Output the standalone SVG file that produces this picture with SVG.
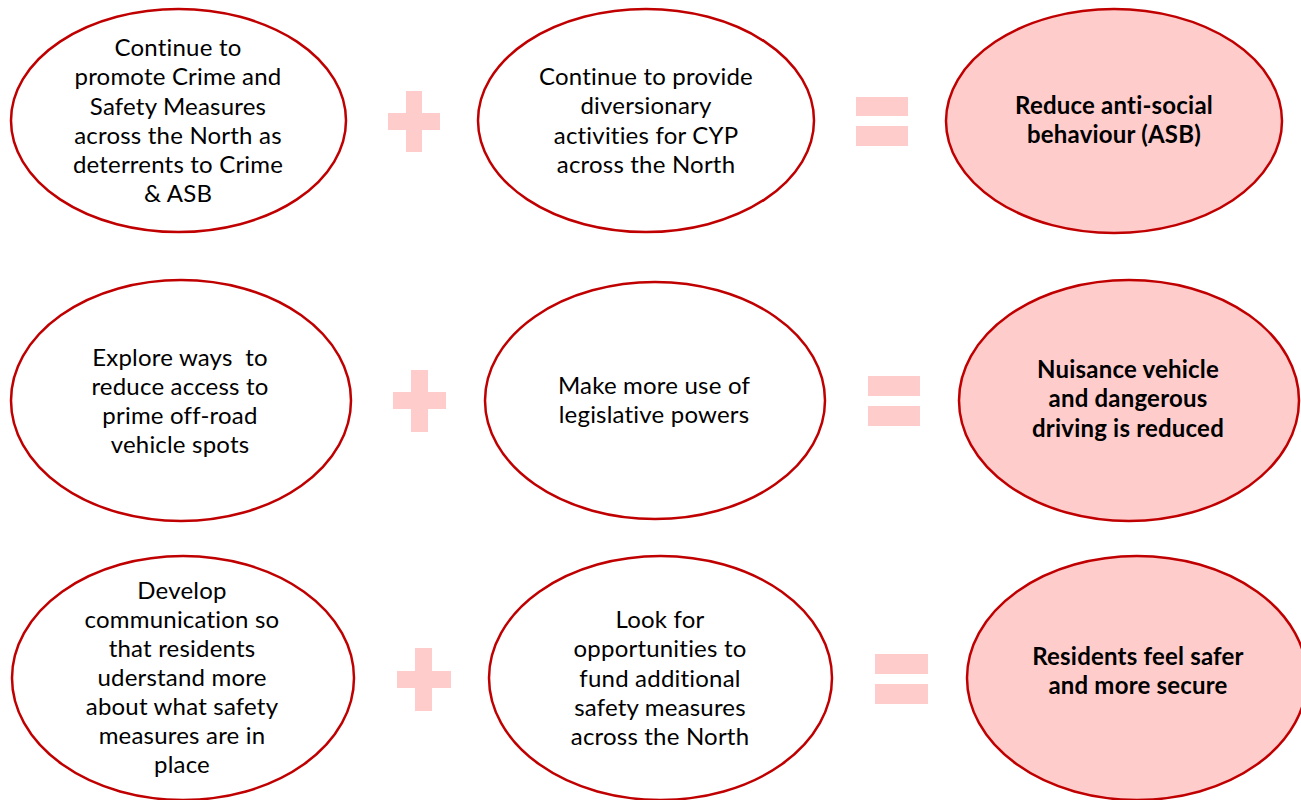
<svg xmlns="http://www.w3.org/2000/svg" width="1301" height="800" viewBox="0 0 1301 800">
<style>
.bg{fill:#ffffff}
.act{fill:#ffffff;stroke:#C00000;stroke-width:2.5}
.res{fill:#FFCCCC;stroke:#C00000;stroke-width:2.5}
.op{fill:#FFCCCC}
text{font-family:Lato,"Open Sans","Liberation Sans",sans-serif;font-size:24px;letter-spacing:0.2px;fill:#000000;text-anchor:middle}
.b{font-weight:bold}
</style>
<rect class="bg" x="0" y="0" width="1301" height="800"/>
<g id="connectors">
<g id="plus1" class="op"><rect x="406" y="91" width="16" height="61"/><rect x="388" y="113" width="52" height="17"/></g>
<g id="equals1" class="op"><rect x="856" y="97" width="52" height="19"/><rect x="856" y="126" width="52" height="20"/></g>
<g id="plus2" class="op"><rect x="411" y="370" width="17" height="62"/><rect x="393" y="392" width="53" height="17"/></g>
<g id="equals2" class="op"><rect x="868" y="376" width="52" height="20"/><rect x="868" y="406" width="52" height="20"/></g>
<g id="plus3" class="op"><rect x="415" y="648" width="17" height="63"/><rect x="397" y="671" width="54" height="17"/></g>
<g id="equals3" class="op"><rect x="875" y="654" width="53" height="20"/><rect x="875" y="684" width="53" height="20"/></g>
</g>
<g id="n1">
<ellipse class="act" cx="178.5" cy="120.5" rx="167.5" ry="111.5"/>
<text x="178" y="56">Continue to</text>
<text x="178" y="85.3">promote Crime and</text>
<text x="178" y="114.5">Safety Measures</text>
<text x="178" y="143.8">across the North as</text>
<text x="178" y="173">deterrents to Crime</text>
<text x="178" y="202.3">&amp; ASB</text>
</g>
<g id="n2">
<ellipse class="act" cx="646" cy="120.5" rx="168" ry="111.5"/>
<text x="646" y="85">Continue to provide</text>
<text x="646" y="114.3">diversionary</text>
<text x="646" y="143.5">activities for CYP</text>
<text x="646" y="172.8">across the North</text>
</g>
<g id="n3">
<ellipse class="res" cx="1114" cy="121" rx="168" ry="112"/>
<text class="b" x="1114" y="114">Reduce anti-social</text>
<text class="b" x="1114" y="143.3">behaviour (ASB)</text>
</g>
<g id="n4">
<ellipse class="act" cx="181" cy="400.5" rx="170" ry="120.5"/>
<text x="180" y="365.7" xml:space="preserve">Explore ways  to</text>
<text x="180" y="394.7">reduce access to</text>
<text x="180" y="424">prime off-road</text>
<text x="180" y="453.2">vehicle spots</text>
</g>
<g id="n5">
<ellipse class="act" cx="655" cy="400.5" rx="170" ry="118.5"/>
<text x="654" y="394">Make more use of</text>
<text x="654" y="423.3">legislative powers</text>
</g>
<g id="n6">
<ellipse class="res" cx="1129" cy="400.5" rx="170" ry="120.5"/>
<text class="b" x="1128" y="378">Nuisance vehicle</text>
<text class="b" x="1128" y="407.3">and dangerous</text>
<text class="b" x="1128" y="436.6">driving is reduced</text>
</g>
<g id="n7">
<ellipse class="act" cx="183" cy="678" rx="171" ry="122"/>
<text x="182" y="599">Develop</text>
<text x="182" y="628">communication so</text>
<text x="182" y="657">that residents</text>
<text x="182" y="686">uderstand more</text>
<text x="182" y="715.3">about what safety</text>
<text x="182" y="744.3">measures are in</text>
<text x="182" y="773">place</text>
</g>
<g id="n8">
<ellipse class="act" cx="660.5" cy="678" rx="171.5" ry="122"/>
<text x="660" y="628">Look for</text>
<text x="660" y="657.3">opportunities to</text>
<text x="660" y="686.6">fund additional</text>
<text x="660" y="715.8">safety measures</text>
<text x="660" y="745">across the North</text>
</g>
<g id="n9">
<ellipse class="res" cx="1137" cy="678" rx="170" ry="122"/>
<text class="b" x="1138" y="665">Residents feel safer</text>
<text class="b" x="1138" y="694.3">and more secure</text>
</g>
</svg>
